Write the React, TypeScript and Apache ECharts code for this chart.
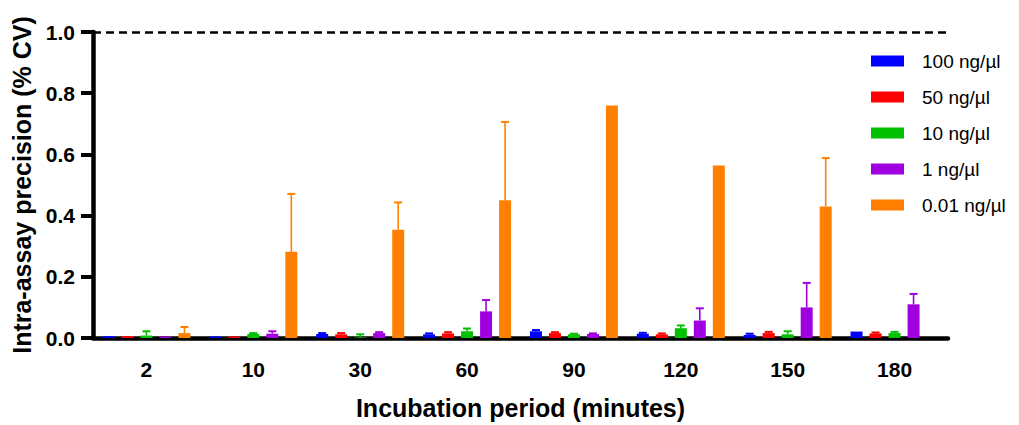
import React, { useEffect, useRef } from "react";
import * as echarts from "echarts";

const categories = ["2", "10", "30", "60", "90", "120", "150", "180"];
const seriesNames = ["100 ng/µl", "50 ng/µl", "10 ng/µl", "1 ng/µl", "0.01 ng/µl"];
const colors = ["#0000FF", "#FF0000", "#00C000", "#A000E0", "#FF8000"];

const mean100 = [0.006, 0.005, 0.013, 0.012, 0.022, 0.014, 0.01, 0.021];
const err100 = [0, 0, 0.003, 0.003, 0.004, 0.003, 0.004, 0];
const mean50 = [0.006, 0.005, 0.012, 0.015, 0.016, 0.012, 0.016, 0.015];
const err50 = [0, 0, 0.004, 0.004, 0.003, 0.003, 0.004, 0.003];
const mean10 = [0.008, 0.013, 0.002, 0.022, 0.012, 0.032, 0.012, 0.016];
const err10 = [0.014, 0.003, 0.01, 0.009, 0.002, 0.009, 0.01, 0.004];
const mean1 = [0.005, 0.014, 0.016, 0.087, 0.013, 0.057, 0.1, 0.11];
const err1 = [0, 0.008, 0.003, 0.037, 0.002, 0.04, 0.08, 0.034];
const mean001 = [0.016, 0.282, 0.354, 0.45, 0.76, 0.564, 0.43, null];
const err001 = [0.02, 0.189, 0.089, 0.256, 0, 0, 0.158, 0];

const yTicks = [0, 0.2, 0.4, 0.6, 0.8, 1.0];

const means = [mean100, mean50, mean10, mean1, mean001];
const errs = [err100, err50, err10, err1, err001];

const BAR_W = 12;
const BAR_GAP_PX = 7;
const FONT = "Arial, 'Liberation Sans', Helvetica, sans-serif";

export default function App() {
  const ref = useRef<HTMLDivElement>(null);
  useEffect(() => {
    if (!ref.current) return;
    const chart = echarts.init(ref.current, undefined, { renderer: "svg" });
    const n = seriesNames.length;
    const barSeries: any[] = seriesNames.map((name, i) => {
      const s: any = {
        name,
        type: "bar",
        data: means[i],
        barWidth: BAR_W,
        barGap: (BAR_GAP_PX / BAR_W) * 100 + "%",
        itemStyle: { color: colors[i] },
        z: 3,
      };
      if (i === 0) {
        s.markLine = {
          silent: true,
          symbol: "none",
          label: { show: false },
          lineStyle: { color: "#000", type: [8, 5], width: 2.5 },
          data: [{ yAxis: yTicks[yTicks.length - 1] }],
        };
      }
      return s;
    });
    const errSeries: any[] = seriesNames.map((name, i) => ({
      name: name + " err",
      type: "custom",
      z: 4,
      data: categories.map((_, k) => [k, means[i][k], errs[i][k]]),
      renderItem: (params: any, api: any) => {
        const k = api.value(0);
        const v = api.value(1);
        const e = api.value(2);
        if (v == null || isNaN(v) || !e) return null;
        const offset = (i - (n - 1) / 2) * (BAR_W + BAR_GAP_PX);
        const p0 = api.coord([k, v]);
        const p1 = api.coord([k, v + e]);
        const x = p0[0] + offset;
        return {
          type: "group",
          children: [
            {
              type: "line",
              shape: { x1: x, y1: p0[1], x2: x, y2: p1[1] },
              style: { stroke: colors[i], lineWidth: 1.6 },
            },
            {
              type: "line",
              shape: { x1: x - 4, y1: p1[1], x2: x + 4, y2: p1[1] },
              style: { stroke: colors[i], lineWidth: 2 },
            },
          ],
        };
      },
    }));
    chart.setOption({
      animation: false,
      textStyle: { fontFamily: FONT },
      grid: { left: 93, width: 855, top: 32, height: 308.5, containLabel: false },
      legend: {
        data: seriesNames,
        orient: "vertical",
        left: 866,
        top: 46,
        icon: "rect",
        itemWidth: 33,
        itemHeight: 11,
        itemGap: 16,
        textStyle: {
          fontFamily: FONT,
          fontSize: 19,
          color: "#000",
          lineHeight: 20,
          padding: [0, 0, 0, 13],
        },
      },
      xAxis: {
        type: "category",
        data: categories,
        name: "Incubation period (minutes)",
        nameLocation: "middle",
        nameGap: 57,
        nameTextStyle: { fontFamily: FONT, fontSize: 25, fontWeight: "bold", color: "#000" },
        axisLine: { lineStyle: { color: "#000", width: 4.5 } },
        axisTick: { alignWithLabel: true, length: 12, lineStyle: { color: "#000", width: 4 } },
        axisLabel: { fontFamily: FONT, fontSize: 21, fontWeight: "bold", color: "#000", margin: 21 },
      },
      yAxis: {
        type: "value",
        min: yTicks[0],
        max: yTicks[yTicks.length - 1],
        interval: 0.2,
        name: "Intra-assay precision (% CV)",
        nameLocation: "middle",
        nameGap: 58,
        nameTextStyle: { fontFamily: FONT, fontSize: 25, fontWeight: "bold", color: "#000" },
        axisLine: { show: true, lineStyle: { color: "#000", width: 4.5 } },
        axisTick: { show: true, length: 12, lineStyle: { color: "#000", width: 4 } },
        splitLine: { show: false },
        axisLabel: {
          fontFamily: FONT,
          fontSize: 21,
          fontWeight: "bold",
          color: "#000",
          margin: 18,
          formatter: (v: number) => v.toFixed(1),
        },
      },
      series: [...barSeries, ...errSeries],
    });
    return () => chart.dispose();
  }, []);
  return (
    <div
      ref={ref}
      style={{ position: "fixed", left: 0, top: 0, width: 1019, height: 425, background: "#fff" }}
    />
  );
}
